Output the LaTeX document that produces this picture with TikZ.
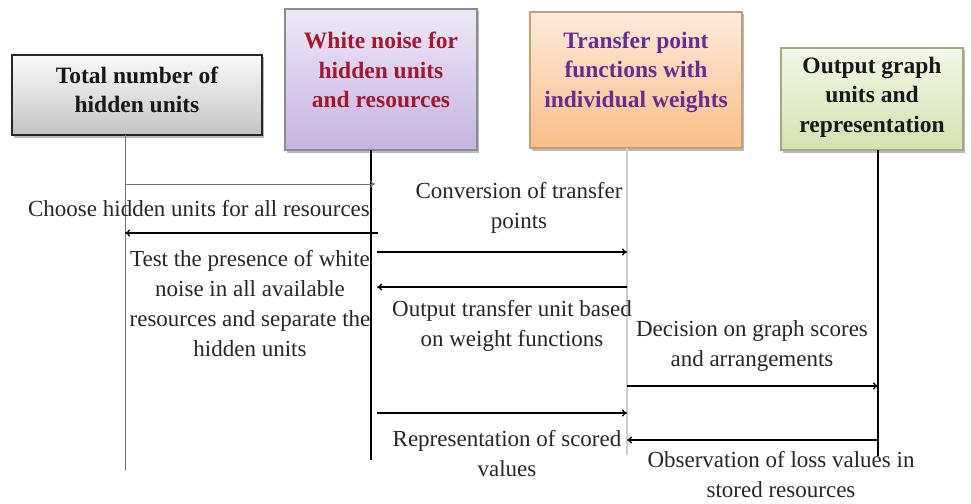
\documentclass[tikz,border=0pt]{standalone}
\usepackage{fontspec}
\setmainfont{Liberation Serif}
\usetikzlibrary{arrows.meta,shadows,calc}

\definecolor{boxred}{HTML}{A3182E}
\definecolor{boxpurple}{HTML}{6B2C91}
\definecolor{lavtop}{HTML}{EEE8F8}
\definecolor{lavbot}{HTML}{C6B3E0}
\definecolor{oratop}{HTML}{FDEBDC}
\definecolor{orabot}{HTML}{F9BD88}
\definecolor{grntop}{HTML}{F2F7E6}
\definecolor{grnbot}{HTML}{D3E2B0}
\definecolor{gratop}{HTML}{FAFAFA}
\definecolor{grabot}{HTML}{C4C4C4}

\tikzset{
  actor/.style={rectangle, draw, line width=1.2pt, inner sep=0pt,
    drop shadow={shadow xshift=2pt, shadow yshift=-2.5pt, fill=black!45, opacity=0.6}},
  boxtext/.style={align=center, font=\fontsize{23.5}{29.5}\selectfont\bfseries, inner sep=0pt},
  msgtext/.style={align=center, font=\fontsize{23}{30}\selectfont, text=black!85, inner sep=0pt},
  msg/.style={line width=1.3pt, -{To[length=5pt,width=7pt]}},
}

\begin{document}
\begin{tikzpicture}[x=1pt,y=-1pt]
\useasboundingbox (0,0) rectangle (971,503);

% participant boxes
\node[actor, draw=black!85, top color=gratop, bottom color=grabot,
      minimum width=250, minimum height=80] (b1) at (137,95) {};
\node[boxtext, text=black!90] (t1) at (137,90) {Total number of\\hidden units};

\node[actor, draw=black!45, top color=lavtop, bottom color=lavbot,
      minimum width=192, minimum height=141] (b2) at (381,79.5) {};
\node[boxtext, text=boxred] (t2) at (381,70) {White noise for\\hidden units\\and resources};

\node[actor, draw=orange!60!black!55, top color=oratop, bottom color=orabot,
      minimum width=212, minimum height=136] (b3) at (636,80) {};
\node[boxtext, text=boxpurple] (t3) at (636,72) {Transfer point\\functions with\\individual weights};

\node[actor, draw=olive!45!black!50, top color=grntop, bottom color=grnbot,
      minimum width=182, minimum height=102] (b4) at (872,99) {};
\node[boxtext, text=black!90] (t4) at (872,97) {Output graph\\units and\\representation};

% lifelines
\coordinate (l1top) at (125,135);  \coordinate (l1bot) at (125,470);
\coordinate (l2top) at (371,150);  \coordinate (l2bot) at (371,460);
\coordinate (l3top) at (627,148);  \coordinate (l3bot) at (627,455);
\coordinate (l4top) at (878,150);  \coordinate (l4bot) at (878,456);
\draw[black!55, line width=1pt] (l1top) -- (l1bot);
\draw[black, line width=1.6pt] (l2top) -- (l2bot);
\draw[black!20, line width=1.2pt] (l3top) -- (l3bot);
\draw[black, line width=1.4pt] (l4top) -- (l4bot);

% messages
\draw[msg, black!55, line width=1pt] (l1top |- 0,184) -- (375,184);
\node[msgtext] (m1) at (199,209) {Choose hidden units for all resources};

\draw[msg] (378,233) -- (l1top |- 0,233);
\node[msgtext] (m2) at (250,304) {Test the presence of white\\noise in all available\\resources and separate the\\hidden units};

\draw[msg] (377,252) -- (l3top |- 0,252);
\node[msgtext] (m3) at (519,208) {Conversion of transfer\\points};

\draw[msg] (l3top |- 0,287) -- (377,287);
\node[msgtext] (m4) at (512,326) {Output transfer unit based\\on weight functions};

\draw[msg] (l3top |- 0,386) -- (l4top |- 0,386);
\node[msgtext] (m5) at (752,346) {Decision on graph scores\\and arrangements};

\draw[msg] (377,413) -- (l3top |- 0,413);
\node[msgtext] (m6) at (507,454) {Representation of scored\\values};

\draw[msg] (l4top |- 0,440) -- (l3top |- 0,440);
\node[msgtext] (m7) at (781,475) {Observation of loss values in\\stored resources};
\end{tikzpicture}
\end{document}
